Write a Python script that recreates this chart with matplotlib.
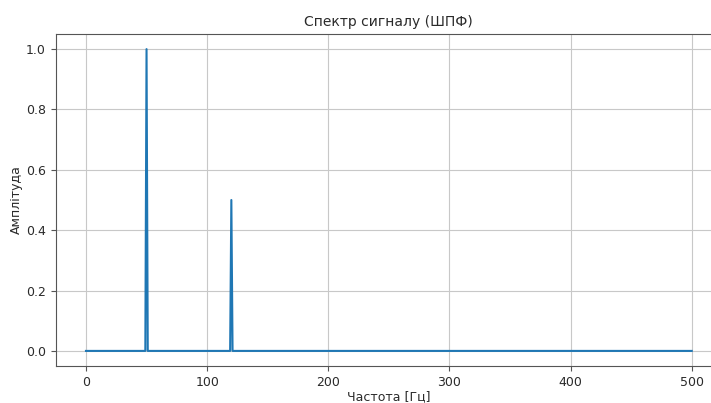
import matplotlib
matplotlib.use("Agg")
import matplotlib.pyplot as plt

# Spectrum data (frequency in Hz, amplitude)
freq = [0, 49, 50, 51, 119, 120, 121, 500]
amplitude = [0.0, 0.0, 1.0, 0.0, 0.0, 0.5, 0.0, 0.0]

title = "Спектр сигналу (ШПФ)"
xlabel = "Частота [Гц]"
ylabel = "Амплітуда"

txt = "#2a2a2a"
fig = plt.figure(figsize=(7.11, 4.03), dpi=100)
ax = fig.add_axes([0.0783, 0.0918, 0.9372, 0.8238])
ax.plot(freq, amplitude, color="#1f77b4", linewidth=1.5)
ax.set_title(title, fontsize=10, color=txt)
ax.set_xlabel(xlabel, fontsize=9, color=txt, labelpad=1)
ax.set_ylabel(ylabel, fontsize=9, color=txt, labelpad=2)
ax.tick_params(labelsize=9, labelcolor=txt, color="#555555")
for s in ax.spines.values():
    s.set_color("#555555")
ax.grid(True, color="#c8c8c8")
fig.savefig("out.png", dpi=100)
